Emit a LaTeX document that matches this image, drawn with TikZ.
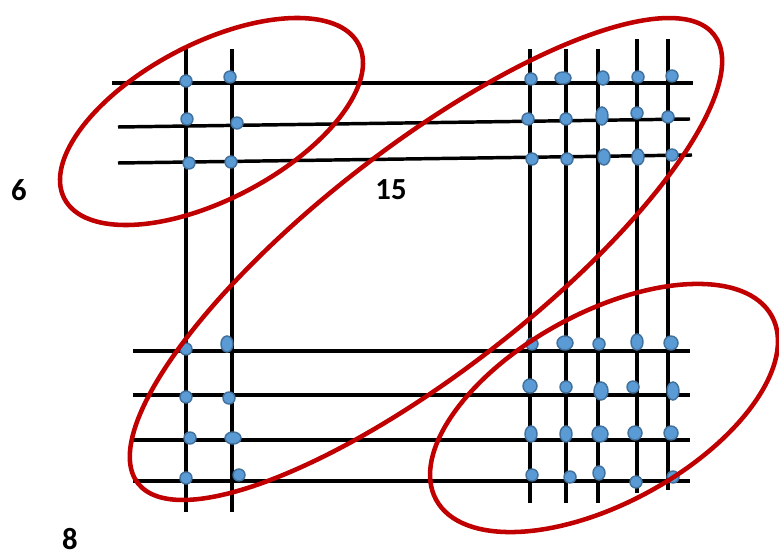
\documentclass[tikz,border=0pt]{standalone}
\usepackage{fontspec}
\setmainfont{Carlito}
\usepackage{tikz}
\usetikzlibrary{calc}
\definecolor{darkred}{RGB}{192,0,0}
\definecolor{dotblue}{RGB}{91,155,213}
\definecolor{dotedge}{RGB}{65,113,156}

\begin{document}
\begin{tikzpicture}[
  x=0.75pt, y=-0.75pt,
  font=\bfseries\fontsize{23}{27}\selectfont,
  grid/.style={draw=black, line width=2.6pt},
  dot/.style={fill=dotblue, draw=dotedge, line width=1.1pt},
  ring/.style={draw=darkred, line width=3.4pt},
  lbl/.style={text=black, inner sep=0pt}
]
\useasboundingbox (0,0) rectangle (779,556);

% columns
\foreach \cx/\top/\bot in {186/49/512, 232/49/512, 530/49/503, 566/49/503, 598/49/503, 637/39/493, 668/39/490}
  \draw[grid] (\cx,\top) -- (\cx,\bot);

% rows
\draw[grid] (112,83) -- (693,83);
\draw[grid] (118,127) -- (690,119);
\draw[grid] (118,163) -- (692,155);
\foreach \ry in {351, 395, 440, 481}
  \draw[grid] (133,\ry) -- (690,\ry);

% nonzero entries
\foreach \x/\y/\a/\b in {
  186/81/6/6, 230/77/6/6, 187/119/6/6, 237/123/6/6, 189/163/6/6, 231/162/6/6,
  531/79/6/6, 563/78/8/6, 603/78/6/7, 638/77/6/6, 672/76/6/6,
  528/119/6/6, 566/119/6/6, 602/116/6/9, 637/113/6/6, 668/117/6/6,
  532/159/6/6, 567/159/6/6, 604/157/6/8, 638/157/6/8, 672/155/6/6,
  532/344/6/6, 565/343/8/7, 599/344/6/6, 637/342/6/8, 671/343/7/7,
  530/386/7/7, 566/387/6/6, 601/391/7/9, 633/387/6/6, 673/391/6/9,
  531/434/6/8, 566/434/6/8, 600/434/8/8, 635/433/7/7, 671/433/7/7,
  532/475/6/6, 570/477/6/6, 599/473/6/7, 636/482/6/6, 673/477/6/6,
  186/349/6/6, 227/344/6/8, 186/397/6/6, 229/398/6/6,
  190/438/6/6, 233/438/8/6, 186/478/6/6, 239/475/6/6}
  \draw[dot] (\x,\y) ellipse [x radius=\a*0.75pt, y radius=\b*0.75pt];

% groups
\coordinate (cA) at (211.5,121.5);
\coordinate (cB) at (426,259);
\coordinate (cC) at (604,408);
\draw[ring, rotate around={27.7:(cA)}] (cA) ellipse [x radius=124.6pt, y radius=58.4pt];
\draw[ring, rotate around={37.9:(cB)}] (cB) ellipse [x radius=273.8pt, y radius=83.7pt];
\draw[ring, rotate around={28.7:(cC)}] (cC) ellipse [x radius=143.5pt, y radius=71.3pt];

\node[lbl] (six) at (19,190) {6};
\node[lbl] (fifteen) at (391,190) {15};
\node[lbl] (eight) at (70,539) {8};
\end{tikzpicture}
\end{document}
